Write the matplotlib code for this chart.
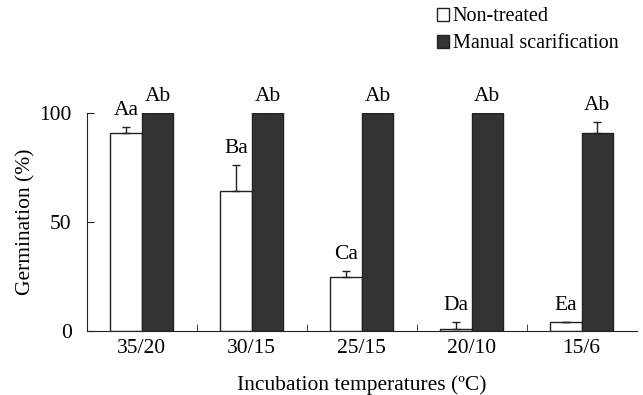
import matplotlib.pyplot as plt
import numpy as np

plt.rcParams['font.family'] = ['Liberation Serif', 'DejaVu Serif']

temps = ['35/20', '30/15', '25/15', '20/10', '15/6']
non_treated = [91, 64, 25, 1, 4]
non_treated_err = [2.5, 12, 2.5, 3, 0]
scarified = [100, 100, 100, 100, 91]
scarified_err = [0, 0, 0, 0, 5]
labels_nt = ['Aa', 'Ba', 'Ca', 'Da', 'Ea']
labels_sc = ['Ab', 'Ab', 'Ab', 'Ab', 'Ab']

fig = plt.figure(figsize=(6.43, 3.95), dpi=100)
ax = fig.add_axes([0.135, 0.162, 0.855, 0.552])

x = np.arange(len(temps))
w = 0.286
err_kw = dict(capsize=3, elinewidth=1, capthick=1, ecolor='#222222')

ax.bar(x - w / 2, non_treated, w, color='white', edgecolor='#222222', linewidth=1,
       label='Non-treated')
ax.errorbar(x - w / 2, non_treated, yerr=[np.zeros(5), non_treated_err], fmt='none', **err_kw)
ax.bar(x + w / 2, scarified, w, color='#333333', edgecolor='#222222', linewidth=1,
       label='Manual scarification')
ax.errorbar(x + w / 2, scarified, yerr=[np.zeros(5), scarified_err], fmt='none', **err_kw)

for i in range(len(temps)):
    ax.annotate(labels_nt[i], (x[i] - w / 2, non_treated[i] + non_treated_err[i]),
                xytext=(0, 5), textcoords='offset points', ha='center', va='bottom',
                fontsize=15.5, annotation_clip=False)
    ax.annotate(labels_sc[i], (x[i] + w / 2, scarified[i] + scarified_err[i]),
                xytext=(0, 5), textcoords='offset points', ha='center', va='bottom',
                fontsize=15.5, annotation_clip=False)

ax.set_xlim(-0.5, 4.5)
ax.set_ylim(0, 100)
ax.set_yticks([0, 50, 100])
ax.set_xticks(x)
ax.set_xticklabels(temps)
ax.set_xticks(x[:-1] + 0.5, minor=True)
ax.tick_params(axis='x', which='major', length=0, labelsize=15.5, pad=6)
ax.tick_params(axis='x', which='minor', direction='in', length=5, color='#222222')
ax.tick_params(axis='y', direction='in', length=5, labelsize=15.5, color='#222222', pad=11)
for s in ['top', 'right']:
    ax.spines[s].set_visible(False)
for s in ['left', 'bottom']:
    ax.spines[s].set_color('#222222')

ax.set_ylabel('Germination (%)', fontsize=15.5, labelpad=3)
ax.set_xlabel('Incubation temperatures (ºC)', fontsize=15.5, labelpad=12)

ax.legend(loc='upper left', bbox_to_anchor=(0.622, 1.522), frameon=False, fontsize=14.5,
          handlelength=0.6, handleheight=0.6, handletextpad=0.2, labelspacing=0.4,
          borderaxespad=0)

fig.savefig('out.png', dpi=100)
